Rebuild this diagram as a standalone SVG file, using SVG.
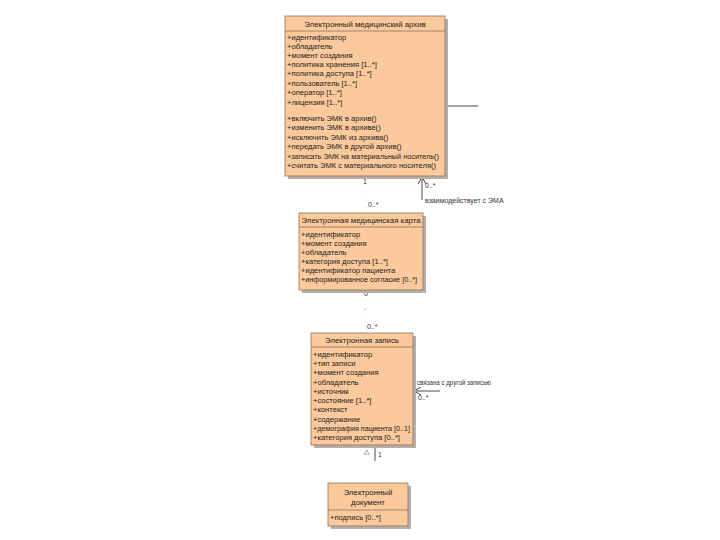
<svg xmlns="http://www.w3.org/2000/svg" width="720" height="540" viewBox="0 0 720 540">
<defs>
<style>
.box{fill:#FBC99B;stroke:#8a7560;stroke-width:0.8}
.sh{fill:#b8b0a8}
.sep{stroke:#8a7560;stroke-width:0.8}
.t{font-family:"Liberation Sans",Arial,sans-serif;font-size:7.6px;fill:#222}
.h{font-family:"Liberation Sans",Arial,sans-serif;font-size:7.8px;fill:#222;text-anchor:middle}
.l{font-family:"Liberation Sans",Arial,sans-serif;font-size:7px;fill:#333}
.c{stroke:#333;stroke-width:0.9;fill:none}
.f{stroke:#d8d8d8;stroke-width:0.8;fill:none;stroke-dasharray:1 6}
</style>
<marker id="open" markerWidth="8" markerHeight="8" refX="7" refY="4" orient="auto" markerUnits="userSpaceOnUse">
<path d="M0,0 L7,4 L0,8" fill="none" stroke="#333" stroke-width="0.9"/>
</marker>
</defs>
<rect width="720" height="540" fill="#fff"/>

<g id="connectors">
<line class="c" x1="445" y1="106" x2="478" y2="106"/>
<line class="c" x1="422" y1="200" x2="422" y2="177" marker-end="url(#open)"/>
<line class="f" x1="366" y1="186" x2="366" y2="212"/>
<line class="f" x1="367" y1="294" x2="367" y2="332"/>
<line class="c" x1="440" y1="391" x2="414" y2="391" marker-end="url(#open)"/>
<line class="c" x1="375" y1="447" x2="375" y2="461"/>
<text class="l" x="363" y="184">1</text>
<text class="l" x="368" y="207">0..*</text>
<text class="l" x="425" y="188">0..*</text>
<text class="l" x="425" y="203">взаимодействует с ЭМА</text>
<text class="l" x="364" y="296">0</text>
<text class="l" x="364" y="310">.</text>
<text class="l" x="367" y="329">0..*</text>
<text class="l" x="417" y="385" textLength="74" lengthAdjust="spacingAndGlyphs">связана с другой записью</text>
<text class="l" x="418" y="400">0..*</text>
<text class="l" x="364" y="454">△</text>
<text class="l" x="378" y="457">1</text>
</g>

<g id="archive">
<rect class="sh" x="288" y="19" width="160" height="160"/>
<rect class="box" x="285" y="16" width="160" height="160"/>
<line class="sep" x1="285" y1="31" x2="445" y2="31"/>
<text class="h" x="365" y="27">Электронный медицинский архив</text>
<text class="t" x="287" y="40">+идентификатор</text>
<text class="t" x="287" y="49">+обладатель</text>
<text class="t" x="287" y="58">+момент создания</text>
<text class="t" x="287" y="67">+политика хранения [1..*]</text>
<text class="t" x="287" y="76">+политика доступа [1..*]</text>
<text class="t" x="287" y="86">+пользователь [1..*]</text>
<text class="t" x="287" y="95">+оператор [1..*]</text>
<text class="t" x="287" y="105">+лицензия [1..*]</text>
<text class="t" x="287" y="121">+включить ЭМК в архив()</text>
<text class="t" x="287" y="130">+изменить ЭМК в архиве()</text>
<text class="t" x="287" y="140">+исключить ЭМК из архива()</text>
<text class="t" x="287" y="149">+передать ЭМК в другой архив()</text>
<text class="t" x="287" y="159" textLength="152" lengthAdjust="spacingAndGlyphs">+записать ЭМК на материальный носитель()</text>
<text class="t" x="287" y="168" textLength="149" lengthAdjust="spacingAndGlyphs">+считать ЭМК с материального носителя()</text>
</g>

<g id="card">
<rect class="sh" x="302" y="216" width="124" height="77"/>
<rect class="box" x="299" y="213" width="124" height="77"/>
<line class="sep" x1="299" y1="227" x2="423" y2="227"/>
<text class="h" x="361" y="223">Электронная медицинская карта</text>
<text class="t" x="301" y="237">+идентификатор</text>
<text class="t" x="301" y="246">+момент создания</text>
<text class="t" x="301" y="255">+обладатель</text>
<text class="t" x="301" y="264">+категория доступа [1..*]</text>
<text class="t" x="301" y="273">+идентификатор пациента</text>
<text class="t" x="301" y="282" textLength="116" lengthAdjust="spacingAndGlyphs">+информированное согласие [0..*]</text>
</g>

<g id="record">
<rect class="sh" x="314" y="336" width="102" height="112"/>
<rect class="box" x="311" y="333" width="102" height="112"/>
<line class="sep" x1="311" y1="347" x2="413" y2="347"/>
<text class="h" x="362" y="343">Электронная запись</text>
<text class="t" x="313" y="357">+идентификатор</text>
<text class="t" x="313" y="366">+тип записи</text>
<text class="t" x="313" y="375">+момент создания</text>
<text class="t" x="313" y="385">+обладатель</text>
<text class="t" x="313" y="394">+источник</text>
<text class="t" x="313" y="403">+состояние [1..*]</text>
<text class="t" x="313" y="412">+контекст</text>
<text class="t" x="313" y="422">+содержание</text>
<text class="t" x="313" y="431" textLength="97" lengthAdjust="spacingAndGlyphs">+демография пациента [0..1]</text>
<text class="t" x="313" y="440">+категория доступа [0..*]</text>
</g>

<g id="document">
<rect class="sh" x="331" y="486" width="80" height="43"/>
<rect class="box" x="328" y="483" width="80" height="43"/>
<line class="sep" x1="328" y1="510" x2="408" y2="510"/>
<text class="h" x="368" y="495">Электронный</text>
<text class="h" x="368" y="505">документ</text>
<text class="t" x="330" y="520">+подпись [0..*]</text>
</g>
</svg>
